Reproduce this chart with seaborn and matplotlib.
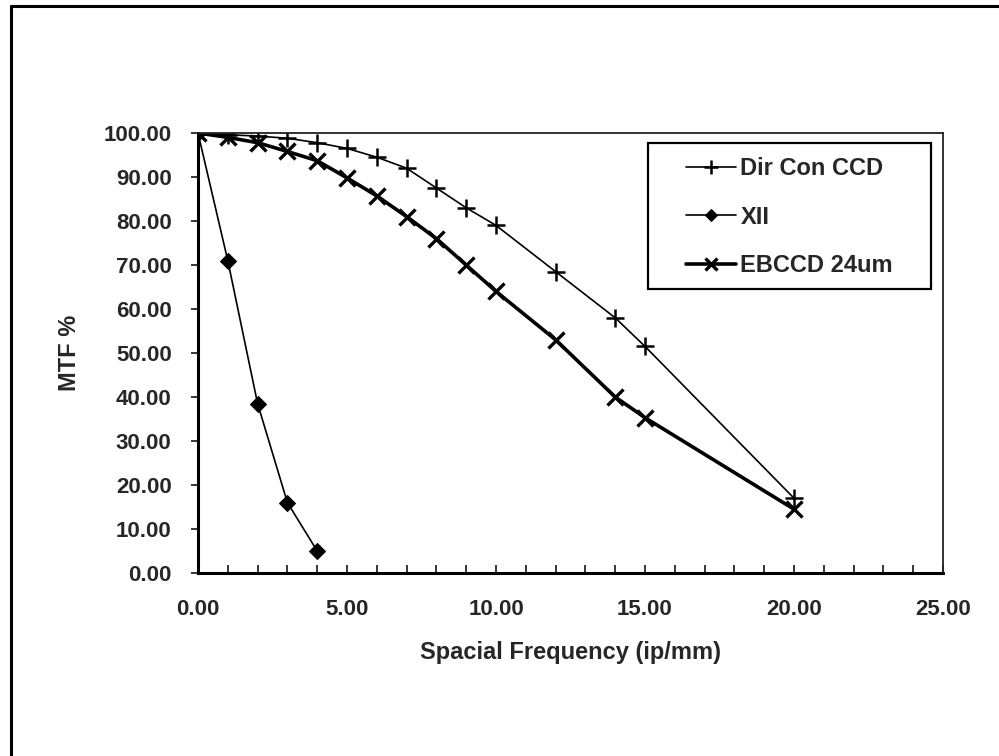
import numpy as np
import pandas as pd
import matplotlib
matplotlib.use("Agg")
import matplotlib.pyplot as plt
from matplotlib.lines import Line2D
from matplotlib.patches import Rectangle
from matplotlib.ticker import MultipleLocator, FormatStrFormatter
import seaborn as sns

# spatial frequency (lp/mm)
freq_ccd = [0, 1, 2, 3, 4, 5, 6, 7, 8, 9, 10, 12, 14, 15, 20]
mtf_ccd = [100, 99.6, 99.3, 98.8, 97.8, 96.5, 94.5, 92.0, 87.5, 83.0, 79.0, 68.5, 58.0, 51.5, 17.0]

freq_xii = [0, 1, 2, 3, 4]
mtf_xii = [100, 71.0, 38.5, 16.0, 5.0]

freq_eb = [0, 1, 2, 3, 4, 5, 6, 7, 8, 9, 10, 12, 14, 15, 20]
mtf_eb = [100, 99.0, 97.8, 95.8, 93.7, 89.8, 85.7, 81.0, 76.0, 70.0, 64.0, 53.0, 40.0, 35.3, 14.5]

series_names = ["Dir Con CCD", "XII", "EBCCD 24um"]

sns.set_style("white")
plt.rcParams["font.family"] = ["Liberation Sans", "DejaVu Sans"]
plt.rcParams["font.weight"] = "bold"
FS = 16

W, H = 999, 756
fig = plt.figure(figsize=(W / 100, H / 100), dpi=100)
ax = fig.add_axes([198 / W, 1 - 573 / H, (943 - 198) / W, (573 - 133) / H])

df_ccd = pd.DataFrame({"x": freq_ccd, "y": mtf_ccd})
df_xii = pd.DataFrame({"x": freq_xii, "y": mtf_xii})
df_eb = pd.DataFrame({"x": freq_eb, "y": mtf_eb})

sns.lineplot(data=df_ccd, x="x", y="y", ax=ax, color="black", lw=1.2,
             marker="+", markersize=13, markeredgewidth=1.8, markeredgecolor="black",
             label=series_names[0])
sns.lineplot(data=df_xii, x="x", y="y", ax=ax, color="black", lw=1.2,
             marker="D", markersize=8, markerfacecolor="black", markeredgecolor="black",
             label=series_names[1])
sns.lineplot(data=df_eb, x="x", y="y", ax=ax, color="black", lw=2.6,
             marker="x", markersize=12, markeredgewidth=2.4, markeredgecolor="black",
             label=series_names[2])

ax.set_xlim(0, 25)
ax.set_ylim(0, 100)
ax.xaxis.set_major_locator(MultipleLocator(5))
ax.xaxis.set_minor_locator(MultipleLocator(1))
ax.yaxis.set_major_locator(MultipleLocator(10))
ax.xaxis.set_major_formatter(FormatStrFormatter("%.2f"))
ax.yaxis.set_major_formatter(FormatStrFormatter("%.2f"))

ax.tick_params(axis="x", which="both", direction="in", length=6, width=1.3,
               labelsize=FS, pad=19, bottom=True)
ax.tick_params(axis="y", which="major", direction="out", length=5, width=1.3,
               labelsize=FS, pad=14, left=True)

for side in ["left", "bottom"]:
    ax.spines[side].set_linewidth(2.2)
    ax.spines[side].set_color("black")
for side in ["top", "right"]:
    ax.spines[side].set_linewidth(1.3)
    ax.spines[side].set_color("#222222")

ax.set_xlabel("Spacial Frequency (ip/mm)", fontsize=FS + 1, fontweight="bold", labelpad=15)
ax.set_ylabel("MTF %", fontsize=FS + 1, fontweight="bold", labelpad=16.5)

# legend box drawn separately so the inner padding matches the original
fig.add_artist(Rectangle((648 / W, 1 - 289 / H), (931 - 648) / W, (289 - 143) / H,
                         transform=fig.transFigure, fill=False, edgecolor="black",
                         linewidth=1.6, zorder=5))
leg = ax.legend(loc="upper left", bbox_to_anchor=(686 / W, 1 - 157 / H),
                bbox_transform=fig.transFigure,
                frameon=False, fontsize=FS + 1,
                handlelength=2.1, handletextpad=0.2, labelspacing=1.08,
                borderpad=0, borderaxespad=0)
for h in leg.legend_handles:
    h.set_markersize(h.get_markersize() * 0.75)
for t in leg.get_texts():
    t.set_fontweight("bold")

# scanned page frame: only top and left edges are visible
fig.add_artist(Line2D([11 / W, 1.0], [1 - 6 / H, 1 - 6 / H], transform=fig.transFigure,
                      color="black", lw=2.2))
fig.add_artist(Line2D([11 / W, 11 / W], [0.0, 1 - 6 / H], transform=fig.transFigure,
                      color="black", lw=2.2))

fig.savefig("out.png", dpi=100, facecolor="white")
